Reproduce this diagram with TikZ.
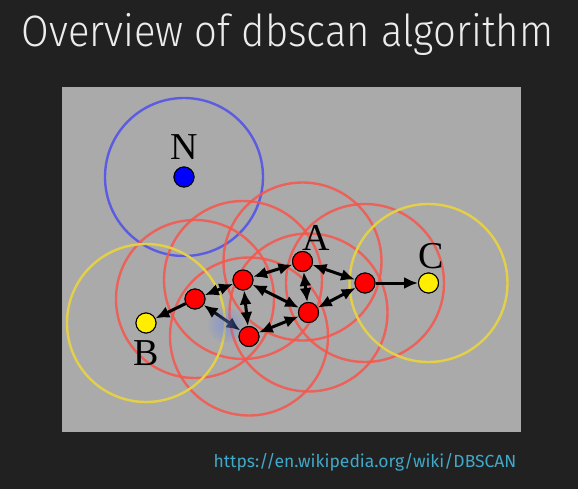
\documentclass[tikz,border=0pt]{standalone}
\usepackage{fontspec}
\setmainfont{Liberation Serif}
\newfontfamily\fuentetitulo{Fira Sans Light}
\newfontfamily\fuenteenlace{Fira Sans}
\usetikzlibrary{arrows.meta}
\definecolor{FondoOscuro}{RGB}{33,33,33}
\definecolor{GrisPanel}{RGB}{170,170,170}
\definecolor{TituloClaro}{RGB}{236,236,236}
\definecolor{RojoNucleo}{RGB}{255,0,0}
\definecolor{RojoRadio}{RGB}{246,86,76}
\definecolor{AmarilloBorde}{RGB}{255,238,0}
\definecolor{AmarilloRadio}{RGB}{228,208,72}
\definecolor{AzulRuido}{RGB}{0,0,255}
\definecolor{AzulRadio}{RGB}{92,92,226}
\definecolor{AzulBrillo}{RGB}{110,140,235}
\definecolor{CianEnlace}{RGB}{64,168,200}
\tikzset{
  puntobox/.style={circle, draw=black, line width=1pt, minimum size=20pt, inner sep=0pt},
  nucleo/.style={puntobox, fill=RojoNucleo},
  frontera/.style={puntobox, fill=AmarilloBorde},
  ruido/.style={puntobox, fill=AzulRuido},
  radiorojo/.style={draw=RojoRadio, line width=2.4pt},
  radioamarillo/.style={draw=AmarilloRadio, line width=2.4pt},
  radioazul/.style={draw=AzulRadio, line width=2.4pt},
  etiqueta/.style={font=\fontsize{38}{40}\selectfont, anchor=base, inner sep=0pt},
  flechados/.style={{Latex[length=14pt, width=12pt]}-{Latex[length=14pt, width=12pt]}, line width=3pt, black},
  flechauno/.style={-{Latex[length=14pt, width=12pt]}, line width=3pt, black},
}

\begin{document}
\begin{tikzpicture}[x=1pt, y=-1pt]
    \useasboundingbox (0,0) rectangle (578,489);
    \fill[FondoOscuro] (0,0) rectangle (578,489);
    \fill[GrisPanel] (62,87) rectangle (521,432);

    \node[font=\fuentetitulo\fontsize{44}{50}\selectfont, text=TituloClaro, anchor=base, inner sep=0pt, xscale=0.91] (titulo) at (287.5,47) {Overview of dbscan algorithm};
    \node[font=\fuenteenlace\fontsize{17.5}{20}\selectfont, text=CianEnlace, anchor=base, inner sep=0pt] (enlace) at (365,467) {https://en.wikipedia.org/wiki/DBSCAN};

    % puntos
    \node[ruido] (N) at (184,177) {};
    \node[nucleo] (p1) at (195,299) {};
    \node[nucleo] (p2) at (243,280) {};
    \node[nucleo] (A) at (302.5,261.5) {};
    \node[nucleo] (p4) at (308.5,312.5) {};
    \node[nucleo] (p5) at (249,336.5) {};
    \node[nucleo] (p6) at (365,283) {};
    \node[frontera] (B) at (146,323) {};
    \node[frontera] (C) at (428.5,283) {};

    % radios eps
    \draw[radioazul] (N) circle[radius=79pt];
    \foreach \p in {p1,p2,A,p4,p5,p6}
      \draw[radiorojo, opacity=0.85] (\p) circle[radius=79pt];
    \draw[radioamarillo] (B) circle[radius=79pt];
    \draw[radioamarillo] (C) circle[radius=79pt];

    \node[etiqueta] (etN) at (184,160) {N};
    \node[etiqueta] (etA) at (316,250) {A};
    \node[etiqueta] (etB) at (146,365) {B};
    \node[etiqueta] (etC) at (431,268) {C};

    \draw[flechados] (p1) -- (p2);
    \draw[flechados] (p2) -- (A);
    \draw[flechados] (p2) -- (p5);
    \draw[flechados] (p2) -- (p4);
    \draw[flechados] (A) -- (p4);
    \draw[flechados] (A) -- (p6);
    \draw[flechados] (p4) -- (p6);
    \draw[flechados] (p5) -- (p4);
    \draw[flechados] (p5) -- (p1);
    \draw[flechauno] (p1) -- (B);
    \draw[flechauno] (p6) -- (C);

    % puntos encima de radios
    \foreach \p in {p1,p2,A,p4,p5,p6}
      \node[nucleo] at (\p) {};
    \node[frontera] at (B) {};
    \node[frontera] at (C) {};
    \node[ruido] at (N) {};

    % brillo del cursor
    \coordinate (brillo) at (226,325);
    \foreach \r in {4,6,...,18}
      \fill[AzulBrillo, opacity=0.07] (brillo) circle[radius=\r pt];
  \end{tikzpicture}
\end{document}
